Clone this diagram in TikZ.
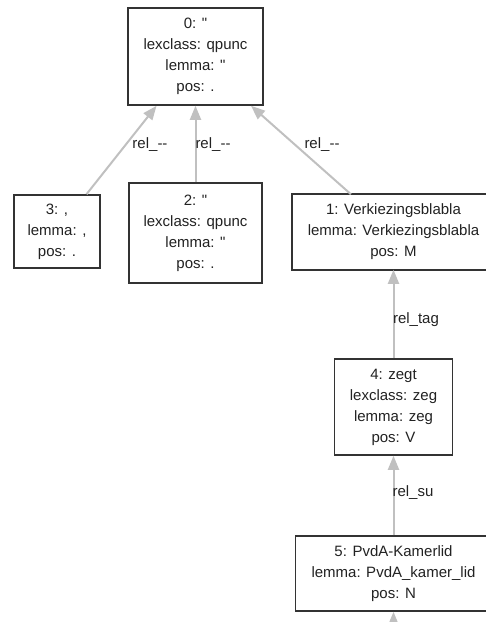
\documentclass[tikz,border=0pt]{standalone}
\usepackage{fontspec}
\setmainfont{Liberation Sans}[Ligatures=TeXOff]
\usetikzlibrary{arrows.meta}
\definecolor{boxline}{HTML}{333333}
\definecolor{edgegray}{HTML}{C0C0C0}
\definecolor{ink}{HTML}{222222}
\tikzset{
  tok/.style={draw=boxline, line width=1.6pt, fill=white, text=ink,
    align=center, inner sep=0pt, font=\fontsize{15}{21}\selectfont},
  rel/.style={draw=edgegray, line width=2pt,
    -{Triangle[length=14pt,width=11pt]}},
  rellabel/.style={text=ink, inner sep=0pt, font=\fontsize{15}{18}\selectfont},
}
\begin{document}
\begin{tikzpicture}[x=1pt,y=-1pt]
\useasboundingbox (0,0) rectangle (486,622);
\clip (0,0) rectangle (486,622);

% token nodes
\node[tok, minimum width=135pt, minimum height=97pt] (n0) at (195.5,56.5)
  {0: "\\lexclass: qpunc\\lemma: "\\pos: .};
\node[tok, minimum width=86pt, minimum height=73pt] (n3) at (57,231.5)
  {3: ,\\lemma: ,\\pos: .};
\node[tok, minimum width=133pt, minimum height=100pt] (n2) at (195.5,233)
  {2: "\\lexclass: qpunc\\lemma: "\\pos: .};
\node[tok, draw=none, fill=none, minimum width=202pt, minimum height=74pt] (n1) at (393.5,232)
  {1: Verkiezingsblabla\\lemma: Verkiezingsblabla\\pos: M};
\draw[boxline, line width=1.6pt] (n1.north west) rectangle ([xshift=-9pt]n1.south east);
\node[tok, minimum width=118pt, minimum height=96pt] (n4) at (393.5,407)
  {4: zegt\\lexclass: zeg\\lemma: zeg\\pos: V};
\node[tok, minimum width=196pt, minimum height=75pt] (n5) at (393.5,573.5)
  {5: PvdA-Kamerlid\\lemma: PvdA\_kamer\_lid\\pos: N};
\coordinate (tail) at (393.5,650);

% dependency relations
\draw[rel] (n3) -- (n0);
\draw[rel] (n2) -- (n0);
\draw[rel] (n1) -- (n0);
\draw[rel] (n4) -- (n1);
\draw[rel] (n5) -- (n4);
\draw[rel] (tail) -- (n5);

% relation labels
\node[rellabel] (l3) at (150,145) {rel\_--};
\node[rellabel] (l2) at (213,145) {rel\_--};
\node[rellabel] (l1) at (322,145) {rel\_--};
\node[rellabel] (l4) at (416,320) {rel\_tag};
\node[rellabel] (l5) at (413,493) {rel\_su};
\end{tikzpicture}
\end{document}
